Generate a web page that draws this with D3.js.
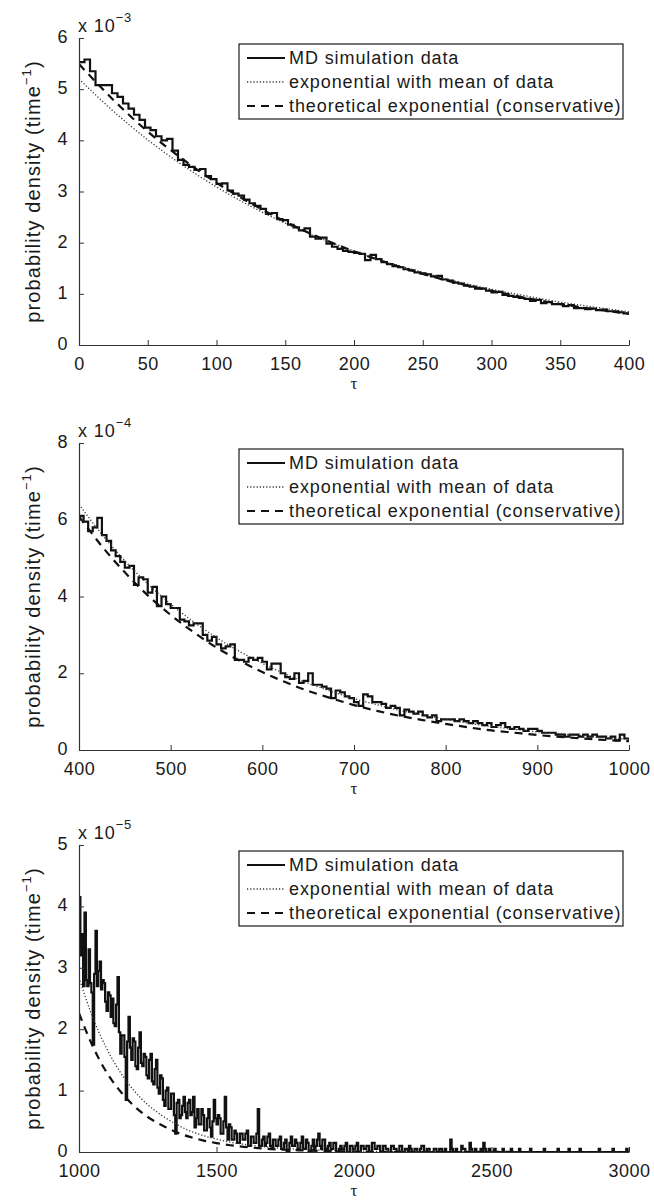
<!DOCTYPE html>
<html lang="en">
<head>
<meta charset="UTF-8">
<title>probability density of tau</title>
<script src="https://cdn.jsdelivr.net/npm/d3@7"></script>
<style>
  body { margin: 0; background: #fff; }
  svg { display: block; font-family: "Liberation Sans", Arial, Helvetica, sans-serif; }
</style>
</head>
<body>
<script>
// legend entries, same in every panel
var legendLabels = ["MD simulation data", "exponential with mean of data", "theoretical exponential (conservative)"];

// ---- panel 1 : tau 0..400, density in units of 1e-3
var xTicks1 = [0, 50, 100, 150, 200, 250, 300, 350, 400];
var yTicks1 = [0, 1, 2, 3, 4, 5, 6];
var mdStart1 = 0, mdBin1 = 4;
var md1 = [
  5.53, 5.58, 5.35, 5.08, 5.08, 5.08, 4.92, 4.85, 4.72, 4.62,
  4.50, 4.40, 4.25, 4.20, 4.08, 4.00, 4.03, 3.80, 3.62, 3.52,
  3.48, 3.42, 3.44, 3.30, 3.24, 3.15, 3.16, 3.02, 2.96, 2.92,
  2.84, 2.77, 2.72, 2.66, 2.56, 2.58, 2.46, 2.44, 2.35, 2.30,
  2.24, 2.28, 2.12, 2.08, 2.10, 1.98, 1.92, 1.88, 1.84, 1.82,
  1.80, 1.78, 1.66, 1.76, 1.68, 1.62, 1.58, 1.54, 1.52, 1.48,
  1.46, 1.42, 1.40, 1.38, 1.34, 1.35, 1.28, 1.26, 1.22, 1.20,
  1.16, 1.14, 1.10, 1.10, 1.06, 1.03, 1.04, 0.98, 0.96, 0.94,
  0.92, 0.90, 0.86, 0.88, 0.82, 0.84, 0.80, 0.80, 0.76, 0.78,
  0.72, 0.72, 0.70, 0.71, 0.68, 0.69, 0.66, 0.66, 0.64, 0.62
];
var fitTau1 = [0, 25, 50, 75, 100, 125, 150, 175, 200, 225, 250, 275, 300, 325, 350, 375, 400];
var meanFit1 = [5.20, 4.57, 4.01, 3.52, 3.09, 2.71, 2.38, 2.09, 1.84, 1.61, 1.42, 1.24, 1.09, 0.96, 0.84, 0.74, 0.65];
var theory1 = [5.49, 4.79, 4.17, 3.64, 3.17, 2.77, 2.41, 2.10, 1.83, 1.60, 1.39, 1.21, 1.06, 0.92, 0.80, 0.70, 0.61];

// ---- panel 2 : tau 400..1000, density in units of 1e-4
var xTicks2 = [400, 500, 600, 700, 800, 900, 1000];
var yTicks2 = [0, 2, 4, 6, 8];
var mdStart2 = 400, mdBin2 = 5;
var md2 = [
  6.10, 5.95, 5.70, 5.80, 6.05, 5.60, 5.45, 5.20, 5.05, 4.90,
  4.75, 4.80, 4.30, 4.50, 4.45, 4.10, 4.25, 3.75, 4.00, 3.80,
  3.70, 3.70, 3.40, 3.35, 3.25, 3.30, 3.30, 3.00, 2.85, 2.95,
  2.75, 2.65, 2.70, 2.75, 2.35, 2.35, 2.30, 2.40, 2.35, 2.40,
  2.30, 2.10, 2.25, 2.25, 2.00, 1.90, 1.85, 2.00, 1.75, 1.80,
  2.00, 1.70, 1.70, 1.65, 1.60, 1.35, 1.55, 1.50, 1.40, 1.35,
  1.25, 1.15, 1.45, 1.40, 1.25, 1.25, 1.20, 1.10, 1.15, 1.10,
  0.90, 1.05, 1.00, 0.95, 1.00, 0.90, 0.85, 0.90, 0.75, 0.80,
  0.80, 0.80, 0.75, 0.80, 0.75, 0.70, 0.75, 0.70, 0.65, 0.70,
  0.60, 0.65, 0.70, 0.60, 0.55, 0.60, 0.55, 0.50, 0.55, 0.55,
  0.50, 0.45, 0.45, 0.45, 0.40, 0.40, 0.35, 0.40, 0.40, 0.35,
  0.40, 0.35, 0.40, 0.35, 0.35, 0.30, 0.35, 0.25, 0.40, 0.30
];
var fitTau2 = [400, 425, 450, 475, 500, 525, 550, 575, 600, 625, 650, 675, 700, 725, 750, 775, 800, 825, 850, 875, 900, 925, 950, 975, 1000];
var meanFit2 = [6.40, 5.62, 4.93, 4.33, 3.80, 3.34, 2.93, 2.57, 2.26, 1.98, 1.74, 1.53, 1.34, 1.18, 1.03, 0.91, 0.80, 0.70, 0.61, 0.54, 0.47, 0.42, 0.37, 0.32, 0.28];
var theory2 = [6.09, 5.31, 4.63, 4.03, 3.52, 3.07, 2.67, 2.33, 2.03, 1.77, 1.54, 1.35, 1.17, 1.02, 0.89, 0.78, 0.68, 0.59, 0.51, 0.45, 0.39, 0.34, 0.30, 0.26, 0.23];

// ---- panel 3 : tau 1000..3000, density in units of 1e-5
var xTicks3 = [1000, 1500, 2000, 2500, 3000];
var yTicks3 = [0, 1, 2, 3, 4, 5];
var mdStart3 = 1000, mdBin3 = 5;
var md3 = [
  4.15, 3.20, 3.55, 2.70, 3.90, 2.80, 2.70, 3.30, 2.75, 2.60,
  1.75, 2.90, 3.60, 2.70, 2.95, 3.10, 2.65, 2.80, 2.75, 2.45,
  2.30, 2.60, 2.55, 2.20, 2.50, 2.10, 2.05, 2.40, 2.85, 1.95,
  1.60, 1.90, 1.90, 1.55, 0.85, 1.80, 2.20, 1.70, 1.50, 1.85,
  1.80, 1.40, 1.35, 1.70, 1.95, 1.45, 1.40, 1.60, 1.55, 1.25,
  1.20, 1.50, 1.60, 1.15, 1.10, 1.35, 1.50, 1.05, 0.95, 1.25,
  1.20, 0.85, 0.75, 1.00, 1.05, 0.70, 0.70, 0.95, 0.95, 0.60,
  0.30, 0.80, 0.85, 0.55, 0.60, 0.75, 0.90, 0.65, 0.55, 0.80,
  0.85, 0.60, 0.65, 0.90, 0.40, 0.55, 0.70, 0.45, 0.45, 0.70,
  0.60, 0.35, 0.35, 0.55, 0.70, 0.40, 0.25, 0.50, 0.85, 0.55,
  0.45, 0.60, 0.55, 0.30, 0.30, 0.50, 0.90, 0.40, 0.20, 0.45,
  0.40, 0.20, 0.20, 0.35, 0.30, 0.15, 0.15, 0.30, 0.30, 0.20,
  0.20, 0.30, 0.35, 0.10, 0.10, 0.25, 0.25, 0.15, 0.15, 0.30,
  0.70, 0.10, 0.10, 0.20, 0.25, 0.10, 0.15, 0.25, 0.30, 0.10,
  0.05, 0.20, 0.20, 0.10, 0.10, 0.20, 0.25, 0.05, 0.05, 0.15,
  0.20, 0.00, 0.00, 0.15, 0.25, 0.10, 0.10, 0.20, 0.15, 0.05,
  0.05, 0.15, 0.25, 0.05, 0.05, 0.20, 0.15, 0.00, 0.00, 0.10,
  0.20, 0.05, 0.10, 0.20, 0.30, 0.10, 0.05, 0.20, 0.20, 0.05,
  0.00, 0.10, 0.15, 0.05, 0.05, 0.15, 0.15, 0.00, 0.00, 0.05,
  0.10, 0.05, 0.05, 0.10, 0.15, 0.00, 0.00, 0.10, 0.10, 0.05,
  0.05, 0.10, 0.15, 0.00, 0.00, 0.10, 0.10, 0.05, 0.05, 0.10,
  0.10, 0.00, 0.00, 0.15, 0.15, 0.05, 0.05, 0.10, 0.10, 0.00,
  0.00, 0.10, 0.10, 0.05, 0.05, 0.00, 0.00, 0.10, 0.10, 0.05,
  0.05, 0.00, 0.00, 0.10, 0.10, 0.00, 0.00, 0.05, 0.05, 0.00,
  0.10, 0.05, 0.00, 0.00, 0.05, 0.05, 0.00, 0.00, 0.05, 0.10,
  0.10, 0.00, 0.00, 0.05, 0.05, 0.00, 0.00, 0.00, 0.05, 0.05,
  0.00, 0.00, 0.05, 0.05, 0.00, 0.00, 0.05, 0.00, 0.00, 0.00,
  0.20, 0.05, 0.00, 0.00, 0.05, 0.00, 0.00, 0.00, 0.10, 0.05,
  0.05, 0.00, 0.00, 0.00, 0.15, 0.05, 0.00, 0.00, 0.05, 0.00,
  0.00, 0.00, 0.05, 0.00, 0.15, 0.05, 0.00, 0.00, 0.05, 0.00,
  0.00, 0.00, 0.05, 0.00, 0.00, 0.00, 0.00, 0.00, 0.05, 0.00,
  0.00, 0.00, 0.00, 0.00, 0.05, 0.00, 0.00, 0.00, 0.00, 0.00,
  0.05, 0.00, 0.00, 0.00, 0.00, 0.00, 0.00, 0.00, 0.05, 0.00,
  0.00, 0.00, 0.00, 0.00, 0.00, 0.00, 0.00, 0.00, 0.05, 0.00,
  0.00, 0.00, 0.00, 0.00, 0.00, 0.00, 0.00, 0.00, 0.05, 0.00,
  0.00, 0.00, 0.00, 0.00, 0.00, 0.00, 0.05, 0.00, 0.00, 0.00,
  0.00, 0.00, 0.00, 0.00, 0.05, 0.00, 0.00, 0.00, 0.00, 0.00,
  0.00, 0.00, 0.00, 0.00, 0.00, 0.00, 0.00, 0.00, 0.05, 0.00,
  0.00, 0.00, 0.00, 0.00, 0.00, 0.00, 0.00, 0.00, 0.05, 0.00,
  0.00, 0.00, 0.00, 0.00, 0.00, 0.00, 0.00, 0.00, 0.05, 0.00
];
var fitTau3 = [1000, 1050, 1100, 1150, 1200, 1250, 1300, 1350, 1400, 1450, 1500, 1550, 1600, 1650, 1700, 1750, 1800, 1900, 2000, 2200, 2500, 3000];
var meanFit3 = [2.84, 2.19, 1.69, 1.30, 1.00, 0.77, 0.60, 0.46, 0.35, 0.27, 0.21, 0.16, 0.125, 0.096, 0.074, 0.057, 0.044, 0.026, 0.016, 0.005, 0.001, 0];
var theory3 = [2.26, 1.72, 1.30, 0.99, 0.75, 0.57, 0.44, 0.33, 0.25, 0.19, 0.145, 0.11, 0.084, 0.064, 0.048, 0.037, 0.028, 0.016, 0.009, 0.003, 0.0006, 0];

var panels = [
  {top: 38,  xDomain: [0, 400],     yDomain: [0, 6], xTicks: xTicks1, yTicks: yTicks1, power: "\u22123",
   md: md1, mdStart: mdStart1, mdBin: mdBin1, fitTau: fitTau1, meanFit: meanFit1, theory: theory1},
  {top: 443, xDomain: [400, 1000],  yDomain: [0, 8], xTicks: xTicks2, yTicks: yTicks2, power: "\u22124",
   md: md2, mdStart: mdStart2, mdBin: mdBin2, fitTau: fitTau2, meanFit: meanFit2, theory: theory2},
  {top: 845, xDomain: [1000, 3000], yDomain: [0, 5], xTicks: xTicks3, yTicks: yTicks3, power: "\u22125",
   md: md3, mdStart: mdStart3, mdBin: mdBin3, fitTau: fitTau3, meanFit: meanFit3, theory: theory3}
];

var width = 654, height = 1201;
var left = 79, right = 629, plotH = 307;
var ink = "#1a1a1a";

var svg = d3.select("body").append("svg").attr("width", width).attr("height", height);
svg.append("rect").attr("width", width).attr("height", height).attr("fill", "#fff");

panels.forEach(function(p, k) {
  var bottom = p.top + plotH;
  var x = d3.scaleLinear().domain(p.xDomain).range([left, right]);
  var y = d3.scaleLinear().domain(p.yDomain).range([bottom, p.top]);
  var g = svg.append("g");

  // clip so the curves stay inside the axes
  g.append("clipPath").attr("id", "clip" + k)
    .append("rect").attr("x", left).attr("y", p.top).attr("width", right - left).attr("height", plotH + 2);

  // histogram of the simulation as stairs
  var steps = p.md.map(function(v, i) { return [p.mdStart + i * p.mdBin, v]; });
  steps.push([p.xDomain[1], p.md[p.md.length - 1]]);
  var stair = d3.line().x(function(d) { return x(d[0]); }).y(function(d) { return y(d[1]); }).curve(d3.curveStepAfter);
  var smooth = d3.line().x(function(d) { return x(d[0]); }).y(function(d) { return y(d[1]); }).curve(d3.curveMonotoneX);

  var plot = g.append("g").attr("clip-path", "url(#clip" + k + ")");
  plot.append("path").datum(steps).attr("d", stair)
    .attr("fill", "none").attr("stroke", "#111").attr("stroke-width", 2.2).attr("stroke-linejoin", "miter");
  plot.append("path").datum(p.fitTau.map(function(t, i) { return [t, p.meanFit[i]]; })).attr("d", smooth)
    .attr("fill", "none").attr("stroke", "#333").attr("stroke-width", 1.3).attr("stroke-dasharray", "1.2,2");
  plot.append("path").datum(p.fitTau.map(function(t, i) { return [t, p.theory[i]]; })).attr("d", smooth)
    .attr("fill", "none").attr("stroke", "#111").attr("stroke-width", 2.2).attr("stroke-dasharray", "8,6");

  // axes, MATLAB style: ticks pointing in, no box
  var xAxis = g.append("g").attr("transform", "translate(0," + bottom + ")")
    .call(d3.axisBottom(x).tickValues(p.xTicks).tickSizeInner(-5).tickSizeOuter(0).tickPadding(12).tickFormat(d3.format("d")));
  var yAxis = g.append("g").attr("transform", "translate(" + left + ",0)")
    .call(d3.axisLeft(y).tickValues(p.yTicks).tickSizeInner(-5).tickSizeOuter(0).tickPadding(11).tickFormat(d3.format("d")));
  yAxis.selectAll(".tick text").attr("dy", "0.25em");
  [xAxis, yAxis].forEach(function(a) {
    a.attr("font-family", null).attr("font-size", 18).attr("color", ink).style("letter-spacing", "0.5px");
    a.select(".domain").attr("stroke", "#333").attr("stroke-width", 1.2);
    a.selectAll(".tick line").attr("stroke", "#333");
  });

  // scale factor above the y axis
  var pow = g.append("text").attr("x", 78).attr("y", p.top - 6)
    .attr("font-size", 18).attr("fill", ink).style("letter-spacing", "0.9px").text("x 10");
  pow.append("tspan").attr("dy", -10).attr("font-size", 13).text(p.power);

  // axis titles
  g.append("text").attr("x", (left + right) / 2).attr("y", bottom + 44)
    .attr("text-anchor", "middle").attr("font-family", "'Liberation Serif', serif")
    .attr("font-size", 17).attr("fill", ink).text("\u03c4");
  var yl = g.append("text")
    .attr("transform", "translate(40," + (p.top + plotH / 2) + ") rotate(-90)")
    .attr("text-anchor", "middle").attr("font-size", 20).attr("fill", ink)
    .style("letter-spacing", "1.1px").text("probability density (time");
  yl.append("tspan").attr("dy", -9).attr("font-size", 13).text("\u22121");
  yl.append("tspan").attr("dy", 9).text(")");

  // legend
  var lg = g.append("g").attr("transform", "translate(239," + (p.top + 6) + ")");
  lg.append("rect").attr("width", 384).attr("height", 75)
    .attr("fill", "#fff").attr("stroke", ink).attr("stroke-width", 1.2);
  var styles = [
    {stroke: "#111", w: 2.2, dash: null},
    {stroke: "#333", w: 1.3, dash: "1.2,2"},
    {stroke: "#111", w: 2.2, dash: "8,6"}
  ];
  legendLabels.forEach(function(label, i) {
    var cy = 14 + i * 24;
    lg.append("line").attr("x1", 8).attr("x2", 46).attr("y1", cy).attr("y2", cy)
      .attr("stroke", styles[i].stroke).attr("stroke-width", styles[i].w).attr("stroke-dasharray", styles[i].dash);
    lg.append("text").attr("x", 50).attr("y", cy + 6)
      .attr("font-size", 18).attr("fill", ink).style("letter-spacing", "0.9px").text(label);
  });
});
</script>
</body>
</html>
